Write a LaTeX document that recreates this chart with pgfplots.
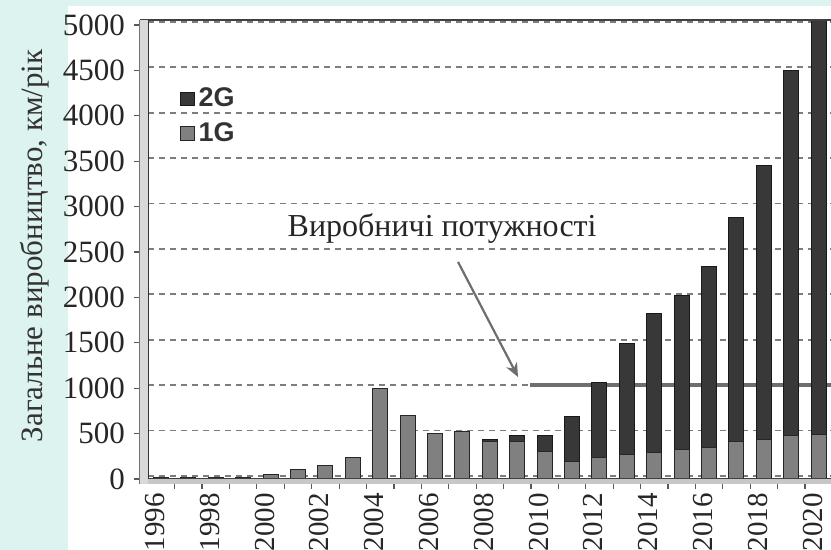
\documentclass[border=0pt]{standalone}
\usepackage{pgfplots}
\pgfplotsset{compat=1.18}
\usepackage{pgfplotstable}
\usepackage{fontspec}
\setmainfont{Liberation Serif}
\newfontfamily\legfont{Liberation Sans}
\usetikzlibrary{arrows.meta}
\definecolor{bgteal}{RGB}{221,243,239}
\definecolor{oneg}{RGB}{128,128,128}
\definecolor{twog}{RGB}{56,56,56}
\definecolor{gridc}{RGB}{125,125,125}
\definecolor{capc}{RGB}{110,110,110}

\pgfplotstableread{
year g1 g2
1996 15 0
1997 15 0
1998 15 0
1999 15 0
2000 50 0
2001 100 0
2002 150 0
2003 235 0
2004 1000 0
2005 695 0
2006 500 0
2007 525 0
2008 415 25
2009 415 60
2010 305 170
2011 195 495
2012 235 825
2013 275 1215
2014 295 1525
2015 330 1695
2016 350 1995
2017 415 2470
2018 440 3010
2019 480 4020
2020 495 4555
}\proddata

\begin{document}
\begin{tikzpicture}[x=1pt,y=1pt]
\useasboundingbox (0,0) rectangle (415.5,275);
\fill[bgteal] (0,0) rectangle (415.5,275);
\fill[white] (34,0) rectangle (415.5,272);
\begin{axis}[
  at={(74pt,35.5pt)}, anchor=south west,
  scale only axis, width=341.5pt, height=229.5pt,
  xmin=1995.526, xmax=2020.45, ymin=0, ymax=5055,
  clip=false,
  ybar stacked, bar width=7.5pt,
  axis line style={draw=none},
  tick pos=left,
  xtick={1996,1998,...,2020},
  xticklabels={1996,1998,2000,2002,2004,2006,2008,2010,2012,2014,2016,2018,2020},
  major x tick style={draw=none},
  minor xtick={1996.5,1997.5,...,2019.5},
  minor x tick style={draw=black!65, line width=0.6pt},
  minor tick length=5pt,
  ytick={0,500,...,5000},
  yticklabels={0,500,1000,1500,2000,2500,3000,3500,4000,4500,5000},
  tick align=outside,
  major tick length=7pt,
  major y tick style={draw=black!65, line width=0.6pt},
  ymajorgrids,
  major grid style={gridc, line width=0.9pt, dash pattern=on 3pt off 2.5pt, yshift=1.5pt},
  tick label style={font=\fontsize{15.5}{18}\selectfont, text=black!85},
  xticklabel style={font=\fontsize{14.5}{17}\selectfont, xshift=-3pt, rotate=90, anchor=east},
  xticklabel shift=-3.5pt,
  yticklabel style={xshift=-1pt},
  ylabel={Загальне виробництво, км/рік},
  ylabel style={font=\fontsize{15.5}{18}\selectfont, text=black!80, at={(axis description cs:-0.1654,0.508)}, anchor=center},
  reverse legend,
  legend image code/.code={\draw[#1] (0pt,-3.3pt) rectangle (6.6pt,3.3pt);},
  legend style={draw=none, fill=none, at={(axis description cs:0.047,0.862)}, anchor=north west,
    font=\legfont\bfseries\fontsize{13.5}{15}\selectfont, text=black!80, row sep=2.5pt, inner sep=0pt,
    /tikz/every even column/.append style={column sep=2pt}},
  legend cell align=left,
]
% floor and walls
\fill[black!22] ([yshift=-2.5pt]rel axis cs:0,0) rectangle (rel axis cs:1,0);
\draw[black!45, line width=0.5pt] ([yshift=-2.5pt]rel axis cs:0,0) -- ([yshift=-2.5pt]rel axis cs:1,0);
\draw[black!75, line width=0.9pt] (rel axis cs:0,0) -- (rel axis cs:1,0);
\fill[black!15] ([xshift=-4pt,yshift=-2.5pt]rel axis cs:0,0) rectangle (rel axis cs:0,1);
\draw[black!55, line width=0.6pt] ([xshift=-4pt,yshift=-2.5pt]rel axis cs:0,0) -- ([xshift=-4pt]rel axis cs:0,1);
\draw[black!80, line width=1.1pt] (rel axis cs:0,0) -- (rel axis cs:0,1);
\draw[black!75, line width=1.3pt] ([xshift=-4pt]rel axis cs:0,1) -- (rel axis cs:1,1);

\addplot[fill=oneg, draw=black!85, line width=0.5pt] table[x=year, y=g1]{\proddata};
\addlegendentry{1G}
\addplot[fill=twog, draw=black!90, line width=0.5pt] table[x=year, y=g2]{\proddata};
\addlegendentry{2G}

% production capacity
\addplot[sharp plot, no markers, draw=capc, line width=2pt, forget plot] coordinates {(2009.47,1024) (2020.45,1024)};
\draw[capc, line width=1.1pt, -{Stealth[length=7pt,width=6pt]}] (axis cs:2006.84,2390) -- (axis cs:2009.03,1123);
\node[font=\fontsize{16}{19}\selectfont, text=black!85] at (axis cs:2006.26,2764) {Виробничі потужності};
\end{axis}
\end{tikzpicture}
\end{document}
